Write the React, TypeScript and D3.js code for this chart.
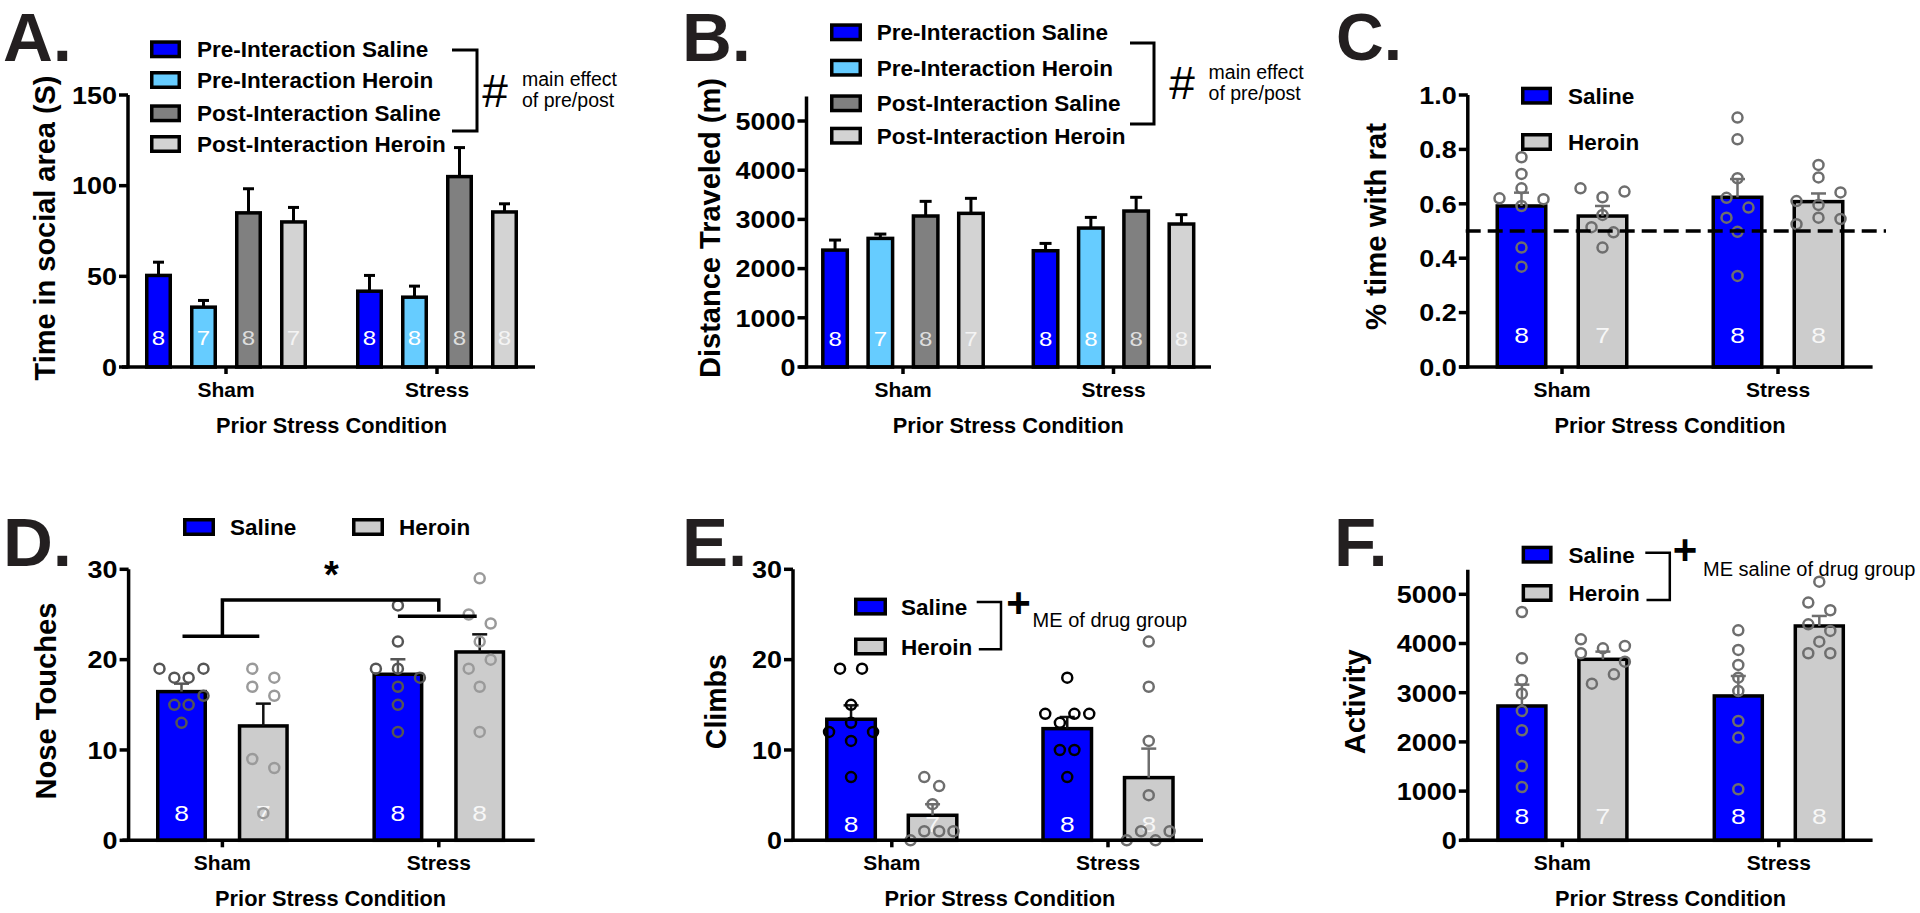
import React from "react";
import * as d3 from "d3";

// ---------------- DATA ----------------
const groups = ["Sham", "Stress"];
const seriesPrePost = [
  "Pre-Interaction Saline",
  "Pre-Interaction Heroin",
  "Post-Interaction Saline",
  "Post-Interaction Heroin",
];
const seriesDrug = ["Saline", "Heroin"];

const nPrePost = [[8, 7, 8, 7], [8, 8, 8, 8]];
const nDrug = [[8, 7], [8, 8]];

// A. Time in social area (S)
const aMeans = [[50.5, 33, 85, 80], [41.8, 38.5, 105, 85.5]];
const aSem = [[7.3, 3.7, 13.3, 8], [8.7, 6.1, 16, 4.5]];
const ticksA = [0, 50, 100, 150];

// B. Distance traveled (m)
const bMeans = [[2376, 2614, 3069, 3123], [2363, 2824, 3170, 2906]];
const bSem = [[204, 88, 298, 305], [149, 217, 279, 190]];
const ticksB = [0, 1000, 2000, 3000, 4000, 5000];

// C. % time with rat  ([value, jitter slot])
const cMeans = [[0.592, 0.555], [0.624, 0.608]];
const cSem = [[0.049, 0.037], [0.067, 0.03]];
const cShamSaline = [[0.771, 0], [0.71, 0], [0.657, 0], [0.62, -2], [0.617, 2], [0.592, 0], [0.439, 0], [0.369, 0]];
const cShamHeroin = [[0.657, -2], [0.624, 0], [0.645, 2], [0.559, 0], [0.514, -1], [0.495, 1], [0.439, 0]];
const cStressSaline = [[0.917, 0], [0.837, 0], [0.694, 0], [0.622, -1], [0.586, 1], [0.549, -1], [0.497, 0], [0.335, 0]];
const cStressHeroin = [[0.743, 0], [0.697, 0], [0.61, -2], [0.642, 2], [0.596, 0], [0.549, 0], [0.525, -2], [0.544, 2]];
const ticksC = [0, 0.2, 0.4, 0.6, 0.8, 1.0];
const chanceLevel = 0.5;

// D. Nose touches
const dMeans = [[16.46, 12.66], [18.38, 20.85]];
const dSem = [[0.88, 2.47], [1.66, 1.95]];
const dShamSaline = [[19, -2], [19, 2], [18, -0.65], [18, 0.65], [16, 2], [15, -0.65], [15, 0.65], [13, 0]];
const dShamHeroin = [[19, -1], [18, 1], [17, -1], [16, 1], [9, -1], [8, 1], [3, 0]];
const dStressSaline = [[26, 0], [22, 0], [19, -2], [19, 0], [18, 2], [17, 0], [15, 0], [12, 0]];
const dStressHeroin = [[29, 0], [25, -1], [24, 1], [22, 0], [20, 1], [19, -1], [17, 0], [12, 0]];
const ticksD = [0, 10, 20, 30];
const dBracketLevels = { top: 26.6, leftLeg: 22.6, rightLeg: 25.3, rightBar: 24.8 };

// E. Climbs
const eMeans = [[13.4, 2.77], [12.36, 6.94]];
const eSem = [[1.54, 1.22], [1.29, 3.21]];
const eShamSaline = [[19, -1], [19, 1], [15, 0], [13, 0], [12, -2], [12, 2], [11, 0], [7, 0]];
const eShamHeroin = [[7, -0.75], [6, 0.6], [4, 0], [1, -0.75], [1, 0.6], [1, 1.9], [0, -2]];
const eStressSaline = [[18, 0], [14, -2], [14, 0.65], [14, 2], [13, -0.67], [10, -0.67], [10, 0.65], [7, 0]];
const eStressHeroin = [[22, 0], [17, 0], [11, 0], [5, 0], [1, -0.7], [1, 1.9], [0, -2], [0, 0.62]];
const ticksE = [0, 10, 20, 30];

// F. Activity
const fMeans = [[2730, 3679], [2934, 4356]];
const fSem = [[434, 156], [406, 204]];
const fShamSaline = [[4641, 0], [3699, 0], [3259, 0], [2981, 0], [2629, 0], [2236, 0], [1511, 0], [1084, 0]];
const fShamHeroin = [[4085, -2], [3801, -2], [3902, 0], [3950, 2], [3631, 2], [3374, 1], [3184, -1]];
const fStressSaline = [[4268, 0], [3869, 0], [3564, 0], [3306, 0], [3035, 0], [2425, 0], [2087, 0], [1037, 0]];
const fStressHeroin = [[5257, 0], [4831, -1], [4675, 1], [4390, -1], [4255, 1], [4038, 0], [3801, -1], [3801, 1]];
const ticksF = [0, 1000, 2000, 3000, 4000, 5000];

// ---------------- STYLE ----------------
const FONT = "'Liberation Sans', Arial, Helvetica, sans-serif";
const BLUE = "#0000ff";
const LBLUE = "#66ccff";
const DGRAY = "#808080";
const LGRAY = "#d3d3d3";
const HGRAY = "#cccccc";
const INK = "#000000";
const JIT = 11;

type Pt = number[];
interface Cfg {
  letter: string; letterX: number; letterY: number; letterSize: number;
  yAxisX: number; xAxis: [number, number]; groupX: [number, number];
  yDomain: [number, number]; yRange: [number, number]; ticks: number[]; fmt: (v: number) => string;
  series: string[]; fills: string[]; nColors: string[];
  means: number[][]; sems: number[][]; ns: number[][]; points?: Pt[][][];
  step: number; bw: number; capW: number; errColors: string[]; errW: number; ptColors: string[];
  nY: number; nFont: number;
  yTitle: string; yTitleX: number; yTitleY: number; yTitleLen: number;
}

function BarPanel({ cfg }: { cfg: Cfg }) {
  const y = d3.scaleLinear().domain(cfg.yDomain).range(cfg.yRange);
  const gx = d3.scalePoint<string>().domain(groups).range(cfg.groupX);
  const n = cfg.series.length;
  const pi = 1 - cfg.bw / cfg.step;
  const inner = d3
    .scaleBand<string>()
    .domain(cfg.series)
    .range([(-n * cfg.step) / 2, (n * cfg.step) / 2])
    .paddingInner(pi)
    .paddingOuter(pi / 2);
  const y0 = y(0);
  const yTop = y(cfg.yDomain[1]);
  const SW = 3.5;
  const cx = (g: string, s: string) => (gx(g) as number) + (inner(s) as number) + inner.bandwidth() / 2;

  return (
    <g>
      {groups.map((g, gi) =>
        cfg.series.map((s, si) => {
          const m = cfg.means[gi][si];
          return (
            <rect
              key={`b${g}${s}`}
              x={(gx(g) as number) + (inner(s) as number)}
              y={y(m)}
              width={inner.bandwidth()}
              height={y0 - y(m)}
              fill={cfg.fills[si]}
              stroke={INK}
              strokeWidth={SW}
            />
          );
        })
      )}
      {groups.map((g, gi) =>
        cfg.series.map((s, si) => (
          <text
            key={`n${g}${s}`}
            transform={`translate(${cx(g, s)},${cfg.nY}) scale(1.2,1)`}
            textAnchor="middle"
            dy="0.36em"
            fontSize={cfg.nFont}
            fontFamily={FONT}
            fill={cfg.nColors[si]}
          >
            {cfg.ns[gi][si]}
          </text>
        ))
      )}
      {groups.map((g, gi) =>
        cfg.series.map((s, si) => {
          const m = cfg.means[gi][si];
          const e = m + cfg.sems[gi][si];
          const x = cx(g, s);
          return (
            <g key={`e${g}${s}`} stroke={cfg.errColors[si]} strokeWidth={cfg.errW}>
              <line x1={x} x2={x} y1={y(m)} y2={y(e)} />
              <line x1={x - cfg.capW / 2} x2={x + cfg.capW / 2} y1={y(e)} y2={y(e)} />
            </g>
          );
        })
      )}
      {cfg.points &&
        groups.map((g, gi) =>
          cfg.series.map((s, si) =>
            cfg.points![gi][si].map((p, pi2) => (
              <circle
                key={`p${g}${s}${pi2}`}
                cx={cx(g, s) + p[1] * JIT}
                cy={y(p[0])}
                r={5}
                fill="none"
                stroke={cfg.ptColors[si]}
                strokeWidth={2.5}
              />
            ))
          )
        )}
      <line x1={cfg.yAxisX} x2={cfg.yAxisX} y1={y0 + 1.5} y2={yTop} stroke={INK} strokeWidth={SW} />
      {cfg.ticks.map((t) => (
        <g key={`t${t}`}>
          <line x1={cfg.yAxisX - 9} x2={cfg.yAxisX} y1={y(t)} y2={y(t)} stroke={INK} strokeWidth={SW} />
          <text
            transform={`translate(${cfg.yAxisX - 11},${y(t)}) scale(1.1,1)`}
            textAnchor="end"
            dy="0.36em"
            fontSize={24.5}
            fontWeight="bold"
            fontFamily={FONT}
            fill={INK}
          >
            {cfg.fmt(t)}
          </text>
        </g>
      ))}
      <line x1={cfg.xAxis[0]} x2={cfg.xAxis[1]} y1={y0} y2={y0} stroke={INK} strokeWidth={SW} />
      {groups.map((g) => (
        <g key={`x${g}`}>
          <line x1={gx(g)} x2={gx(g)} y1={y0} y2={y0 + 7} stroke={INK} strokeWidth={SW} />
          <text x={gx(g)} y={y0 + 30} textAnchor="middle" fontSize={21} fontWeight="bold" fontFamily={FONT}>
            {g}
          </text>
        </g>
      ))}
      <text
        x={((gx(groups[0]) as number) + (gx(groups[1]) as number)) / 2}
        y={y0 + 66}
        textAnchor="middle"
        fontSize={22.5}
        fontWeight="bold"
        fontFamily={FONT}
        textLength={231}
        lengthAdjust="spacingAndGlyphs"
      >
        Prior Stress Condition
      </text>
      <text
        transform={`translate(${cfg.yTitleX},${cfg.yTitleY}) rotate(-90)`}
        textAnchor="middle"
        dy="0.33em"
        fontSize={29}
        fontWeight="bold"
        fontFamily={FONT}
        textLength={cfg.yTitleLen}
        lengthAdjust="spacingAndGlyphs"
      >
        {cfg.yTitle}
      </text>
      <text x={cfg.letterX} y={cfg.letterY} fontSize={cfg.letterSize} fontWeight="bold" fontFamily={FONT} fill="#231f20">
        {cfg.letter}
      </text>
    </g>
  );
}

function Legend({
  items, fills, x, w, rows, textX, horizontal,
}: {
  items: string[]; fills: string[]; x: number[]; w: number; rows: number[]; textX: number[]; horizontal?: boolean;
}) {
  return (
    <g>
      {items.map((it, i) => {
        const sx = horizontal ? x[i] : x[0];
        const cy = horizontal ? rows[0] : rows[i];
        const tx = horizontal ? textX[i] : textX[0];
        return (
          <g key={it}>
            <rect x={sx + 1.75} y={cy - 9 + 1.75} width={w - 3.5} height={18 - 3.5} fill={fills[i]} stroke={INK} strokeWidth={3.5} />
            <text x={tx} y={cy + 8} fontSize={22.5} fontWeight="bold" fontFamily={FONT}>
              {it}
            </text>
          </g>
        );
      })}
    </g>
  );
}

const fmtInt = d3.format("d");
const fmt1 = d3.format(".1f");

const prePostFills = [BLUE, LBLUE, DGRAY, LGRAY];
const prePostN = ["#ffffff", "#ffffff", "#dddddd", "#f4f4f4"];
const drugFills = [BLUE, HGRAY];
const drugN = ["#ffffff", "#f7f7f7"];

const cfgA: Cfg = {
  letter: "A.", letterX: 3, letterY: 61, letterSize: 69,
  yAxisX: 128, xAxis: [122, 535], groupX: [226, 437],
  yDomain: [0, 150], yRange: [367, 95], ticks: ticksA, fmt: fmtInt,
  series: seriesPrePost, fills: prePostFills, nColors: prePostN,
  means: aMeans, sems: aSem, ns: nPrePost,
  step: 45, bw: 23.5, capW: 11, errColors: [INK, INK, INK, INK], errW: 3, ptColors: [],
  nY: 338, nFont: 20,
  yTitle: "Time in social area (S)", yTitleX: 45, yTitleY: 228, yTitleLen: 305,
};

const cfgB: Cfg = {
  letter: "B.", letterX: 682, letterY: 61, letterSize: 69,
  yAxisX: 806.5, xAxis: [799, 1211], groupX: [903, 1113.5],
  yDomain: [0, 5500], yRange: [367, 96.4], ticks: ticksB, fmt: fmtInt,
  series: seriesPrePost, fills: prePostFills, nColors: prePostN,
  means: bMeans, sems: bSem, ns: nPrePost,
  step: 45.3, bw: 24.5, capW: 12, errColors: [INK, INK, INK, INK], errW: 3, ptColors: [],
  nY: 339, nFont: 20,
  yTitle: "Distance Traveled (m)", yTitleX: 710, yTitleY: 228, yTitleLen: 300,
};

const cfgC: Cfg = {
  letter: "C.", letterX: 1336, letterY: 60, letterSize: 66,
  yAxisX: 1467.8, xAxis: [1459.6, 1872.6], groupX: [1562, 1778],
  yDomain: [0, 1], yRange: [367, 95], ticks: ticksC, fmt: fmt1,
  series: seriesDrug, fills: drugFills, nColors: drugN,
  means: cMeans, sems: cSem, ns: nDrug,
  points: [[cShamSaline, cShamHeroin], [cStressSaline, cStressHeroin]],
  step: 81, bw: 48.5, capW: 15, errColors: ["#6e6e6e", "#6e6e6e"], errW: 2.5, ptColors: ["#6e6e6e", "#6e6e6e"],
  nY: 335, nFont: 22,
  yTitle: "% time with rat", yTitleX: 1376, yTitleY: 226.5, yTitleLen: 207,
};

const cfgD: Cfg = {
  letter: "D.", letterX: 3, letterY: 566, letterSize: 69,
  yAxisX: 128.6, xAxis: [122.4, 534.7], groupX: [222.4, 438.8],
  yDomain: [0, 30], yRange: [840.3, 569.3], ticks: ticksD, fmt: fmtInt,
  series: seriesDrug, fills: drugFills, nColors: drugN,
  means: dMeans, sems: dSem, ns: nDrug,
  points: [[dShamSaline, dShamHeroin], [dStressSaline, dStressHeroin]],
  step: 81.8, bw: 47.5, capW: 15, errColors: ["#555555", "#111111"], errW: 2.5, ptColors: ["#555555", "#9a9a9a"],
  nY: 812.7, nFont: 22,
  yTitle: "Nose Touches", yTitleX: 46, yTitleY: 701, yTitleLen: 197,
};

const cfgE: Cfg = {
  letter: "E.", letterX: 682, letterY: 566, letterSize: 69,
  yAxisX: 793, xAxis: [791, 1203], groupX: [891.8, 1108],
  yDomain: [0, 30], yRange: [840.3, 569.3], ticks: ticksE, fmt: fmtInt,
  series: seriesDrug, fills: drugFills, nColors: drugN,
  means: eMeans, sems: eSem, ns: nDrug,
  points: [[eShamSaline, eShamHeroin], [eStressSaline, eStressHeroin]],
  step: 81.5, bw: 48.5, capW: 15, errColors: ["#111111", "#6e6e6e"], errW: 2.5, ptColors: ["#000000", "#6e6e6e"],
  nY: 824.3, nFont: 22,
  yTitle: "Climbs", yTitleX: 716, yTitleY: 701.7, yTitleLen: 95,
};

const cfgF: Cfg = {
  letter: "F.", letterX: 1334, letterY: 566, letterSize: 69,
  yAxisX: 1467.8, xAxis: [1461.6, 1872.6], groupX: [1562.4, 1778.8],
  yDomain: [0, 5500], yRange: [840.3, 569.7], ticks: ticksF, fmt: fmtInt,
  series: seriesDrug, fills: drugFills, nColors: drugN,
  means: fMeans, sems: fSem, ns: nDrug,
  points: [[fShamSaline, fShamHeroin], [fStressSaline, fStressHeroin]],
  step: 81, bw: 48, capW: 15, errColors: ["#6e6e6e", "#6e6e6e"], errW: 2.5, ptColors: ["#6e6e6e", "#6e6e6e"],
  nY: 816, nFont: 22,
  yTitle: "Activity", yTitleX: 1355.5, yTitleY: 701.8, yTitleLen: 105,
};

function ChanceLine() {
  const y = d3.scaleLinear().domain(cfgC.yDomain).range(cfgC.yRange);
  return (
    <line x1={1465.7} x2={1886} y1={y(chanceLevel)} y2={y(chanceLevel)} stroke={INK} strokeWidth={3.5} strokeDasharray="15 7" />
  );
}

function DBrackets() {
  const y = d3.scaleLinear().domain(cfgD.yDomain).range(cfgD.yRange);
  const gx = d3.scalePoint<string>().domain(groups).range(cfgD.groupX);
  const half = cfgD.step / 2;
  const xs = gx("Sham") as number;
  const xt = gx("Stress") as number;
  return (
    <g stroke={INK} strokeWidth={3.5} fill="none">
      <path d={`M${xs},${y(dBracketLevels.leftLeg)} V${y(dBracketLevels.top)} H${xt} V${y(dBracketLevels.rightLeg)}`} />
      <line x1={xs - half + 1} x2={xs + half - 4} y1={y(dBracketLevels.leftLeg)} y2={y(dBracketLevels.leftLeg)} />
      <line x1={xt - half} x2={xt + half - 3} y1={y(dBracketLevels.rightBar)} y2={y(dBracketLevels.rightBar)} />
    </g>
  );
}

export default function App() {
  return (
    <svg
      width={1920}
      height={913}
      viewBox="0 0 1920 913"
      style={{ position: "absolute", left: 0, top: 0, background: "#ffffff" }}
    >
      <rect x={0} y={0} width={1920} height={913} fill="#ffffff" />

      {/* A */}
      <BarPanel cfg={cfgA} />
      <Legend items={seriesPrePost} fills={prePostFills} x={[150]} w={31} rows={[49.3, 80, 113.3, 144]} textX={[197]} />
      <path d="M452,50 H477 V131 H452" stroke={INK} strokeWidth={3} fill="none" />
      <text x={495} y={107} textAnchor="middle" fontSize={46} fontFamily={FONT}>#</text>
      <text x={522} y={86} fontSize={19.5} fontFamily={FONT}>main effect</text>
      <text x={522} y={107} fontSize={19.5} fontFamily={FONT}>of pre/post</text>

      {/* B */}
      <BarPanel cfg={cfgB} />
      <Legend items={seriesPrePost} fills={prePostFills} x={[830]} w={32} rows={[32.3, 67.7, 103.3, 135.7]} textX={[876.7]} />
      <path d="M1130,43 H1154 V124 H1130" stroke={INK} strokeWidth={3} fill="none" />
      <text x={1182} y={99} textAnchor="middle" fontSize={46} fontFamily={FONT}>#</text>
      <text x={1208.6} y={79} fontSize={19.5} fontFamily={FONT}>main effect</text>
      <text x={1208.6} y={100} fontSize={19.5} fontFamily={FONT}>of pre/post</text>

      {/* C */}
      <BarPanel cfg={cfgC} />
      <ChanceLine />
      <Legend items={seriesDrug} fills={drugFills} x={[1521]} w={31} rows={[95.7, 142]} textX={[1568]} />

      {/* D */}
      <BarPanel cfg={cfgD} />
      <DBrackets />
      <text x={331.4} y={588} textAnchor="middle" fontSize={38} fontWeight="bold" fontFamily={FONT}>*</text>
      <Legend items={seriesDrug} fills={drugFills} x={[183, 352]} w={32} rows={[527]} textX={[230, 399]} horizontal />

      {/* E */}
      <BarPanel cfg={cfgE} />
      <Legend items={seriesDrug} fills={drugFills} x={[854]} w={33} rows={[606.6, 646.5]} textX={[901]} />
      <path d="M976.7,602 H1001 V649.3 H978.8" stroke={INK} strokeWidth={2.5} fill="none" />
      <text x={1018.6} y={617} textAnchor="middle" fontSize={42} fontWeight="bold" fontFamily={FONT}>+</text>
      <text x={1032.6} y={627} fontSize={20} fontFamily={FONT}>ME of drug group</text>

      {/* F */}
      <BarPanel cfg={cfgF} />
      <Legend items={seriesDrug} fills={drugFills} x={[1521.6]} w={31} rows={[554.7, 593]} textX={[1568.6]} />
      <path d="M1645.3,552.7 H1669.8 V600 H1646.5" stroke={INK} strokeWidth={2.5} fill="none" />
      <text x={1685} y={564} textAnchor="middle" fontSize={42} fontWeight="bold" fontFamily={FONT}>+</text>
      <text x={1703} y={576} fontSize={20} fontFamily={FONT}>ME saline of drug group</text>
    </svg>
  );
}
